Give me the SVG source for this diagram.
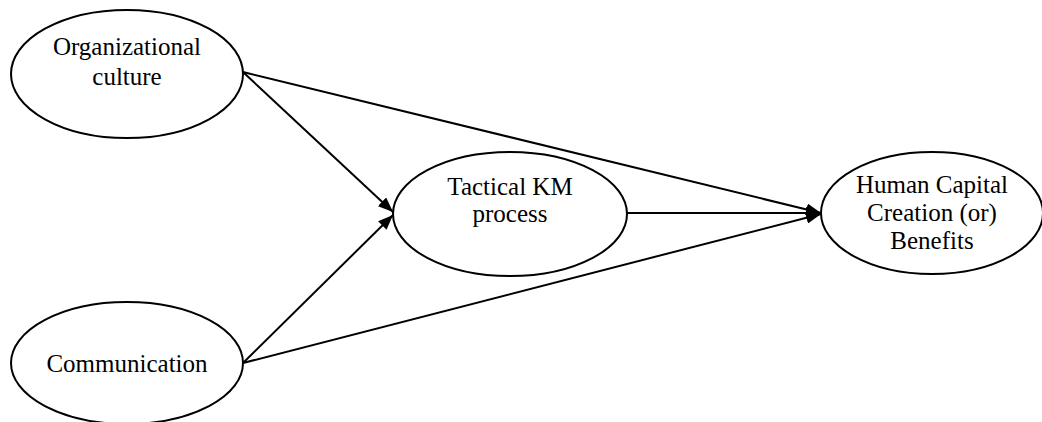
<svg xmlns="http://www.w3.org/2000/svg" width="1042" height="422" viewBox="0 0 1042 422">
  <style>
    .node { fill: #ffffff; stroke: #000000; stroke-width: 2; }
    .label { font-family: "Liberation Serif", "Times New Roman", serif; font-size: 25px; fill: #000000; text-anchor: middle; }
    .edge { stroke: #000000; stroke-width: 2; fill: none; marker-end: url(#arrow); }
  </style>
  <defs>
    <marker id="arrow" viewBox="0 0 15 12" refX="15" refY="6" markerWidth="15" markerHeight="12" markerUnits="userSpaceOnUse" orient="auto">
      <path d="M0,0 L15,6 L0,12 Z" fill="#000000"/>
    </marker>
  </defs>
  <rect width="1042" height="422" fill="#ffffff"/>

  <g id="connectors">
    <line class="edge" x1="243" y1="72" x2="393" y2="212"/>
    <line class="edge" x1="243" y1="72" x2="821" y2="213"/>
    <line class="edge" x1="243" y1="363" x2="393" y2="215"/>
    <line class="edge" x1="243" y1="363" x2="821" y2="214"/>
    <line class="edge" x1="627" y1="213" x2="821" y2="213"/>
  </g>

  <g id="organizational-culture">
    <ellipse class="node" cx="127" cy="74" rx="116" ry="64"/>
    <text class="label" x="127" y="55">Organizational</text>
    <text class="label" x="127" y="85">culture</text>
  </g>

  <g id="communication">
    <ellipse class="node" cx="127" cy="363" rx="116" ry="61"/>
    <text class="label" x="127" y="372">Communication</text>
  </g>

  <g id="tactical-km-process">
    <ellipse class="node" cx="510" cy="214" rx="117" ry="62"/>
    <text class="label" x="510" y="195">Tactical KM</text>
    <text class="label" x="510" y="222">process</text>
  </g>

  <g id="human-capital">
    <ellipse class="node" cx="932" cy="213" rx="111" ry="61"/>
    <text class="label" x="932" y="193">Human Capital</text>
    <text class="label" x="932" y="221">Creation (or)</text>
    <text class="label" x="932" y="249">Benefits</text>
  </g>
</svg>
